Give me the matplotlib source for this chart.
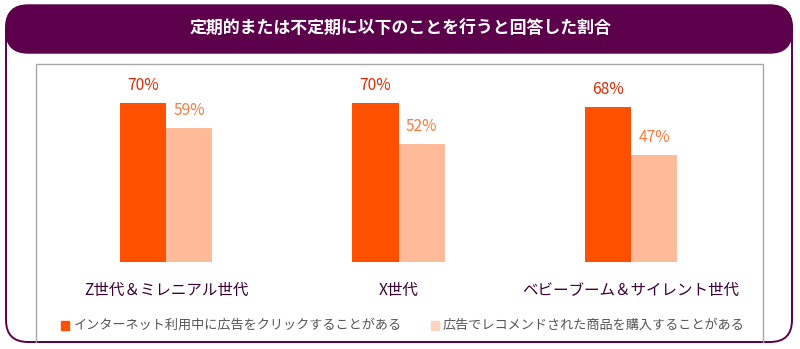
import numpy as np
import matplotlib.pyplot as plt
from matplotlib.patches import FancyBboxPatch, Rectangle

plt.rcParams['font.family'] = ['Noto Sans CJK JP', 'DejaVu Sans']

title = "定期的または不定期に以下のことを行うと回答した割合"
groups = ["Z世代＆ミレニアル世代", "X世代", "ベビーブーム＆サイレント世代"]
series_names = ["インターネット利用中に広告をクリックすることがある",
                "広告でレコメンドされた商品を購入することがある"]
click_ad = [70, 70, 68]
bought_recommended = [59, 52, 47]

W, H = 800, 349
fig = plt.figure(figsize=(W / 100, H / 100), dpi=100)

# overlay in pixel coordinates for the frame and header
bg = fig.add_axes([0, 0, 1, 1])
bg.set_xlim(0, W)
bg.set_ylim(H, 0)
bg.axis("off")

purple = "#5C004C"
bg.add_patch(FancyBboxPatch((6, 6), 786, 336, boxstyle="round,pad=0,rounding_size=22",
                            fc="white", ec=purple, lw=1.4))
bg.add_patch(FancyBboxPatch((6, 5), 786, 48, boxstyle="round,pad=0,rounding_size=22",
                            fc=purple, ec=purple, lw=1.0))
bg.text(401, 29, title, color="white", fontsize=12.2, fontweight="bold",
        ha="center", va="center")

# light grey panel around the bars
bg.plot([36, 36, 763, 763], [342, 64, 64, 342], color="#A8A8A8", lw=1.0)

# bar chart area
x0, x1, ytop, ybase = 36, 762, 64, 262
ax = fig.add_axes([x0 / W, 1 - ybase / H, (x1 - x0) / W, (ybase - ytop) / H])
ax.axis("off")

x = np.arange(len(groups))
bw = 0.198
c_dark, c_light = "#FF5000", "#FFBB99"
ax.bar(x - bw / 2, click_ad, bw, color=c_dark)
ax.bar(x + bw / 2, bought_recommended, bw, color=c_light)
ax.set_xlim(-0.559, 2.563)
ax.set_ylim(0, 87)

for xi, v in zip(x, click_ad):
    ax.annotate(f"{v}%", (xi - bw / 2, v), xytext=(0, 9), textcoords="offset pixels",
                ha="center", va="bottom", color="#E02800", fontsize=11.2)
for xi, v in zip(x, bought_recommended):
    ax.annotate(f"{v}%", (xi + bw / 2, v), xytext=(0, 9), textcoords="offset pixels",
                ha="center", va="bottom", color="#FF7A3A", fontsize=11.2)

# category labels under each group
for xi, g in zip(x, groups):
    gx = x0 + (xi + 0.559) / 3.122 * (x1 - x0)
    bg.text(gx, 290, g, ha="center", va="center", color="#3C0035", fontsize=11.2)

# legend
bg.add_patch(Rectangle((61, 321), 8, 9, color=c_dark))
bg.text(74, 325.5, series_names[0], ha="left", va="center", color="#555555", fontsize=9.45)
bg.add_patch(Rectangle((431, 321), 8, 9, color="#FFD5C2"))
bg.text(443, 325.5, series_names[1], ha="left", va="center", color="#555555", fontsize=9.45)

fig.savefig("out.png", dpi=100)
